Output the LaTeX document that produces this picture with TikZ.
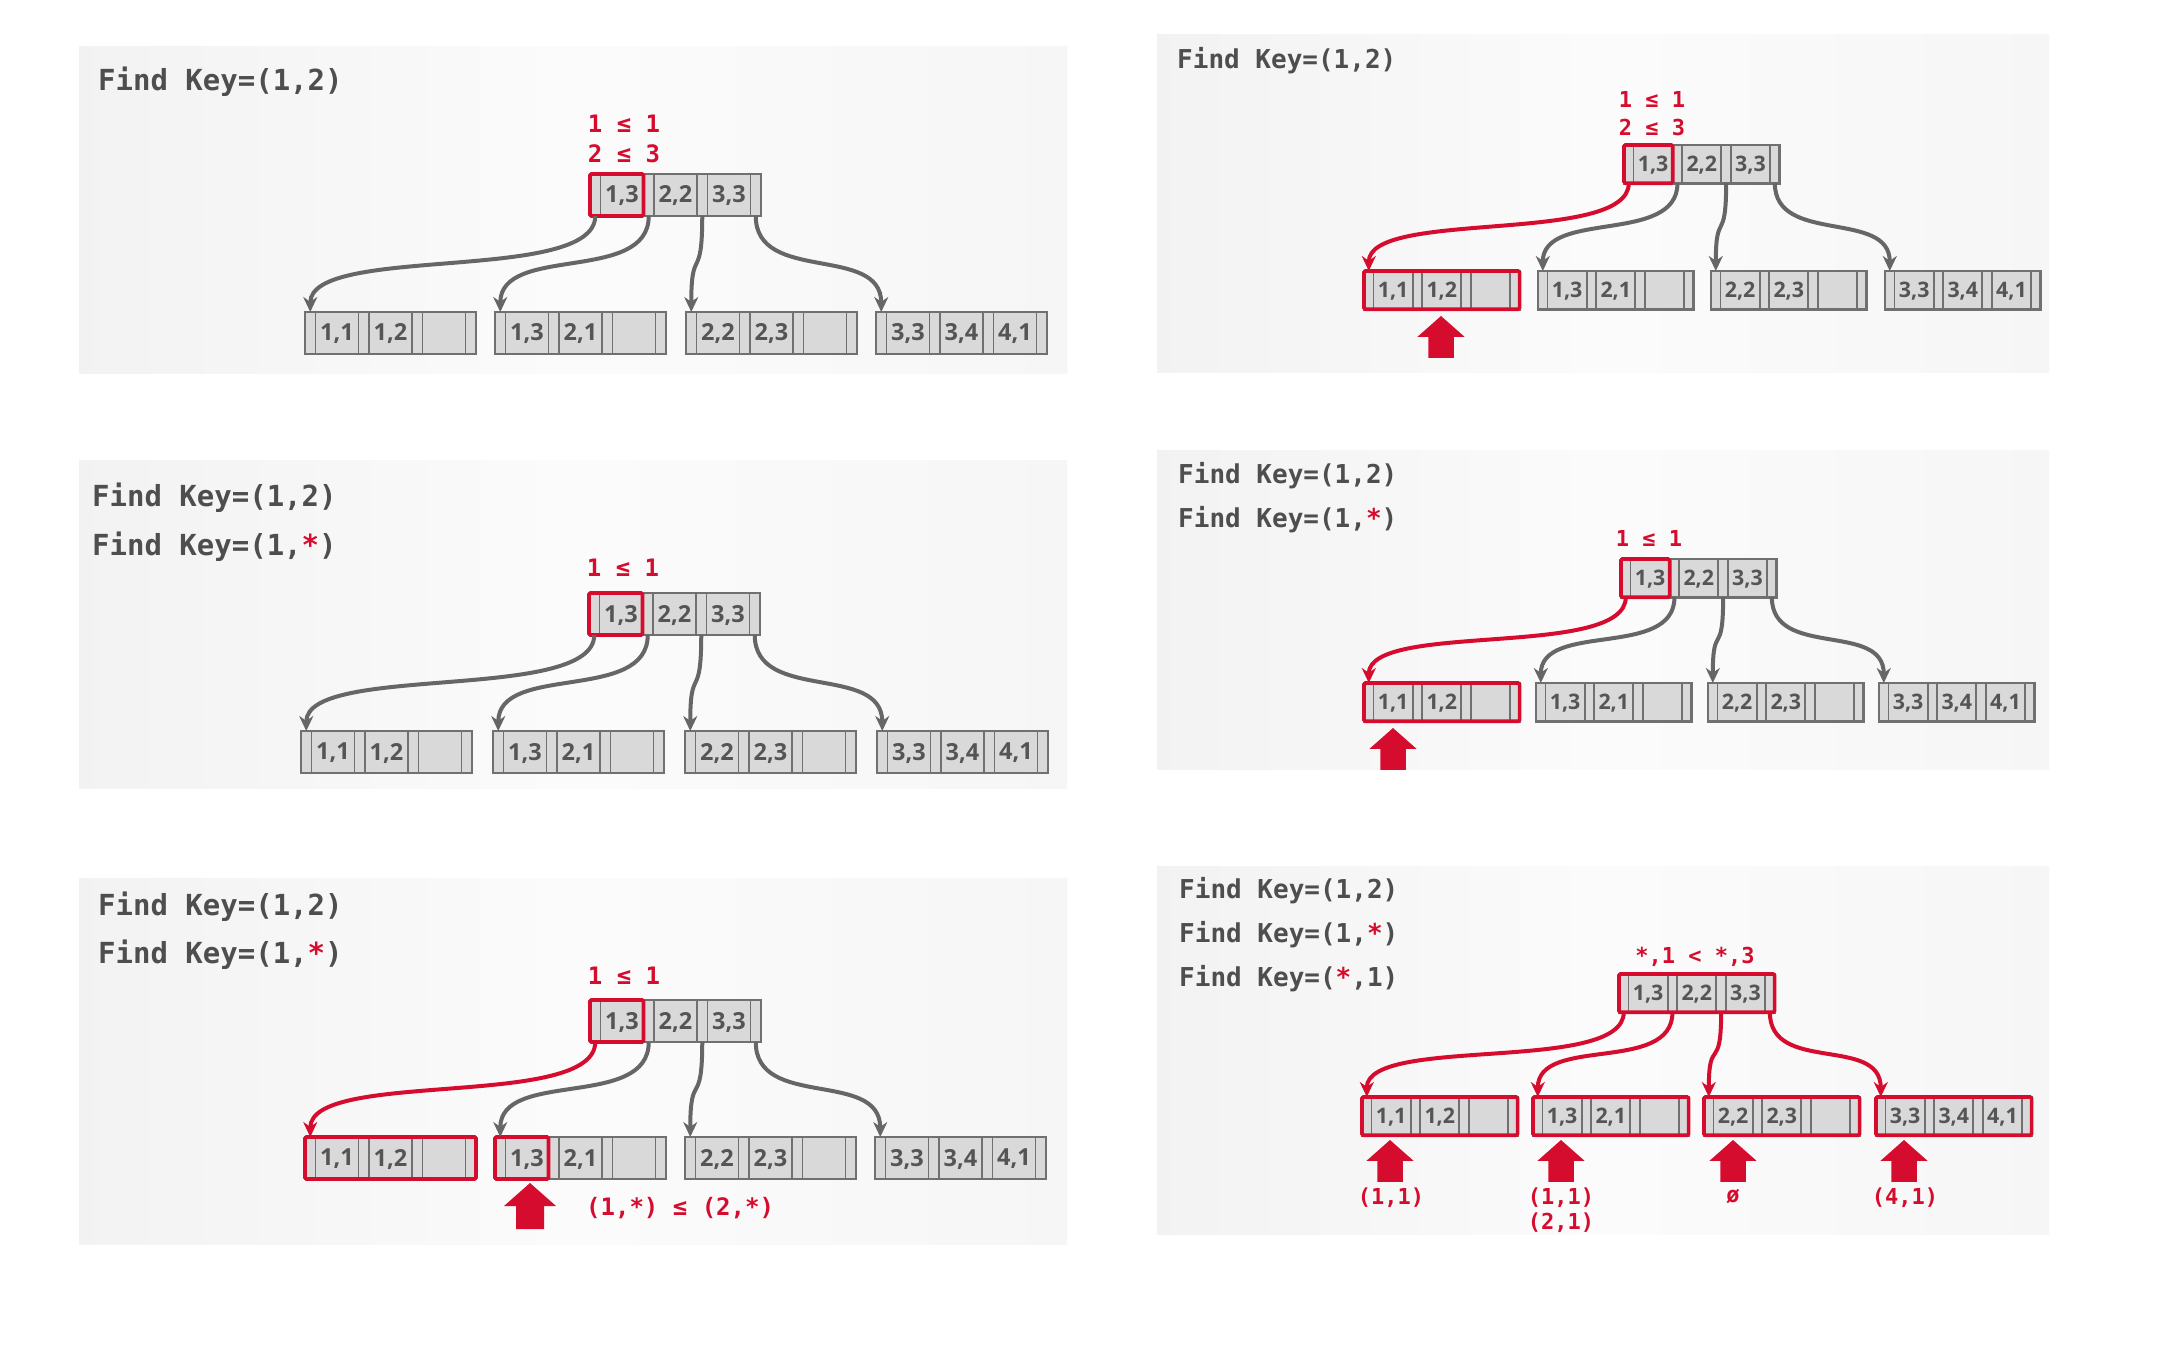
\documentclass[tikz,border=0pt]{standalone}
\usepackage{fontspec}
\setmainfont{Open Sans}
\newfontfamily\monof{DejaVu Sans Mono}
\usetikzlibrary{arrows.meta}
\definecolor{hred}{RGB}{214,12,46}
\definecolor{bgray}{RGB}{112,112,112}
\definecolor{cellfill}{RGB}{217,217,217}
\definecolor{ktext}{RGB}{85,85,85}
\definecolor{ttext}{RGB}{78,78,78}
\definecolor{agray}{RGB}{102,102,102}
\tikzset{
  btbox/.style={draw=bgray, fill=cellfill, line width=2.6pt, outer sep=0pt, inner sep=0pt},
  divline/.style={draw=bgray, line width=1.8pt},
  keytxt/.style={text=ktext, inner sep=0pt},
  hlbox/.style={draw=hred, line width=3.6pt, rounded corners=1.5pt},
  garr/.style={draw=agray, line width=4pt, -{Stealth[length=15pt,width=14pt]}},
  rarr/.style={draw=hred, line width=4pt, -{Stealth[length=15pt,width=14pt]}},
  ftitle/.style={anchor=base west, inner sep=0pt, text=ttext, font=\monof\bfseries\fontsize{#1}{#1}\selectfont},
  flabel/.style={anchor=base, inner sep=0pt, text=hred, font=\monof\bfseries\fontsize{#1}{#1}\selectfont},
  panelbg/.style={left color=gray!10, right color=gray!7, middle color=gray!3},
}
% #1 name, #2 x, #3 y (top-left), #4 scale, #5 #6 #7 keys
\newcommand\btnode[7]{%
  \pgfmathsetmacro\sa{10.5*#4}%
  \pgfmathsetmacro\sb{43*#4}%
  \pgfmathsetmacro\sh{42*#4}%
  \pgfmathsetmacro\sw{4*\sa+3*\sb}%
  \pgfmathsetmacro\fs{23.5*#4}%
  \node[btbox, minimum width=\sw pt, minimum height=\sh pt, anchor=north west] (#1) at (#2,#3) {};
  \foreach \d in {\sa, \sa+\sb, 2*\sa+\sb, 2*\sa+2*\sb, 3*\sa+2*\sb, 3*\sa+3*\sb}
    {\draw[divline] (#1.north west) ++(\d,0) -- ++(0,\sh);}
  \path (#1.west) ++({\sa+\sb/2},1) node[keytxt, font=\bfseries\fontsize{\fs}{\fs}\selectfont] (#1-k1) {#5};
  \path (#1.west) ++({2*\sa+1.5*\sb},1) node[keytxt, font=\bfseries\fontsize{\fs}{\fs}\selectfont] (#1-k2) {#6};
  \if\relax\detokenize{#7}\relax\else
  \path (#1.west) ++({3*\sa+2.5*\sb},1) node[keytxt, font=\bfseries\fontsize{\fs}{\fs}\selectfont] (#1-k3) {#7};
  \fi
  \path (#1.south west) ++({\sa/2},0) coordinate (#1-b0);
  \path (#1.south west) ++({1.5*\sa+\sb},0) coordinate (#1-b1);
  \path (#1.south west) ++({2.5*\sa+2*\sb},0) coordinate (#1-b2);
  \path (#1.south west) ++({3.5*\sa+3*\sb},0) coordinate (#1-b3);
  \path (#1.north west) ++({\sa/2},0) coordinate (#1-t);
  \path (#1.south west) ++({\sa+\sb},0) coordinate (#1-h);
}
% big red up arrow: #1 name, #2 cx, #3 ytop, #4 scale
\newcommand\uparr[4]{%
  \pgfmathsetmacro\ua{26*#4}%
  \pgfmathsetmacro\ub{23*#4}%
  \pgfmathsetmacro\uc{12*#4}%
  \pgfmathsetmacro\ud{28*#4}%
  \coordinate (#1) at (#2,#3);
  \fill[hred] (#1) -- ++(\ua,\ub) -- ++(-\uc,0) -- ++(0,\ub) -- ++(-\ud,0) -- ++(0,-\ub) -- ++(-\uc,0) -- cycle;
}
\newcommand\conn[4]{\draw[#1] (#2) .. controls +(0,#4) and +(0,-#4) .. (#3);}
\newcommand\hlkey[1]{\draw[hlbox] (#1.north west) rectangle (#1-h);}
\newcommand\hlall[1]{\draw[hlbox] (#1.north west) rectangle (#1.south east);}
\begin{document}
\begin{tikzpicture}[x=1pt,y=-1pt]
\useasboundingbox[fill=white] (0,0) rectangle (2184,1354);
% panel backgrounds
\shade[panelbg] (79,47) rectangle (1067,373);
\shade[panelbg] (1157,35) rectangle (2049,372);
\shade[panelbg] (79,460) rectangle (1067,788);
\shade[panelbg] (1157,450) rectangle (2049,769);
\shade[panelbg] (79,878) rectangle (1067,1244);
\shade[panelbg] (1157,866) rectangle (2049,1234);

% ---------- Panel 1 ----------
\node[ftitle=29] (t1) at (98,90) {Find Key=(1,2)};
\node[flabel=24] (l1a) at (624,132) {1 ≤ 1};
\node[flabel=24] (l1b) at (624,162) {2 ≤ 3};
\btnode{p1r}{590}{174}{1}{1,3}{2,2}{3,3}
\btnode{p1a}{305}{312}{1}{1,1}{1,2}{}
\btnode{p1b}{495}{312}{1}{1,3}{2,1}{}
\btnode{p1c}{686}{312}{1}{2,2}{2,3}{}
\btnode{p1d}{876}{312}{1}{3,3}{3,4}{4,1}
\hlkey{p1r}
\conn{garr}{p1r-b0}{p1a-t}{68}
\conn{garr}{p1r-b1}{p1b-t}{68}
\conn{garr}{p1r-b2}{p1c-t}{68}
\conn{garr}{p1r-b3}{p1d-t}{68}

% ---------- Panel 3 ----------
\node[ftitle=29] (t3a) at (92,506) {Find Key=(1,2)};
\node[ftitle=29] (t3b) at (92,555) {Find Key=(1,{\color{hred}*})};
\node[flabel=24] (l3) at (623,576) {1 ≤ 1};
\btnode{p3r}{589}{593}{1}{1,3}{2,2}{3,3}
\btnode{p3a}{301}{731}{1}{1,1}{1,2}{}
\btnode{p3b}{493}{731}{1}{1,3}{2,1}{}
\btnode{p3c}{685}{731}{1}{2,2}{2,3}{}
\btnode{p3d}{877}{731}{1}{3,3}{3,4}{4,1}
\hlkey{p3r}
\conn{garr}{p3r-b0}{p3a-t}{68}
\conn{garr}{p3r-b1}{p3b-t}{68}
\conn{garr}{p3r-b2}{p3c-t}{68}
\conn{garr}{p3r-b3}{p3d-t}{68}

% ---------- Panel 5 ----------
\node[ftitle=29] (t5a) at (98,915) {Find Key=(1,2)};
\node[ftitle=29] (t5b) at (98,963) {Find Key=(1,{\color{hred}*})};
\node[flabel=24] (l5) at (624,984) {1 ≤ 1};
\btnode{p5r}{590}{1000}{1}{1,3}{2,2}{3,3}
\btnode{p5a}{305}{1137}{1}{1,1}{1,2}{}
\btnode{p5b}{495}{1137}{1}{1,3}{2,1}{}
\btnode{p5c}{685}{1137}{1}{2,2}{2,3}{}
\btnode{p5d}{875}{1137}{1}{3,3}{3,4}{4,1}
\hlkey{p5r}
\hlall{p5a}
\hlkey{p5b}
\conn{rarr}{p5r-b0}{p5a-t}{68}
\conn{garr}{p5r-b1}{p5b-t}{68}
\conn{garr}{p5r-b2}{p5c-t}{68}
\conn{garr}{p5r-b3}{p5d-t}{68}
\uparr{u5}{530}{1183}{1}
\node[flabel=24, anchor=base west] (l5b) at (586,1215) {(1,*) ≤ (2,*)};

% ---------- Panel 2 ----------
\node[ftitle=26] (t2) at (1177,68) {Find Key=(1,2)};
\node[flabel=22] (l2a) at (1652,107) {1 ≤ 1};
\node[flabel=22] (l2b) at (1652,135) {2 ≤ 3};
\btnode{p2r}{1624}{145}{0.91}{1,3}{2,2}{3,3}
\btnode{p2a}{1364}{271}{0.91}{1,1}{1,2}{}
\btnode{p2b}{1538}{271}{0.91}{1,3}{2,1}{}
\btnode{p2c}{1711}{271}{0.91}{2,2}{2,3}{}
\btnode{p2d}{1885}{271}{0.91}{3,3}{3,4}{4,1}
\hlkey{p2r}
\hlall{p2a}
\conn{rarr}{p2r-b0}{p2a-t}{62}
\conn{garr}{p2r-b1}{p2b-t}{62}
\conn{garr}{p2r-b2}{p2c-t}{62}
\conn{garr}{p2r-b3}{p2d-t}{62}
\uparr{u2}{1441}{316}{0.91}

% ---------- Panel 4 ----------
\node[ftitle=26] (t4a) at (1178,483) {Find Key=(1,2)};
\node[ftitle=26] (t4b) at (1178,527) {Find Key=(1,{\color{hred}*})};
\node[flabel=22] (l4) at (1649,546) {1 ≤ 1};
\btnode{p4r}{1621}{559}{0.91}{1,3}{2,2}{3,3}
\btnode{p4a}{1364}{683}{0.91}{1,1}{1,2}{}
\btnode{p4b}{1536}{683}{0.91}{1,3}{2,1}{}
\btnode{p4c}{1708}{683}{0.91}{2,2}{2,3}{}
\btnode{p4d}{1879}{683}{0.91}{3,3}{3,4}{4,1}
\hlkey{p4r}
\hlall{p4a}
\conn{rarr}{p4r-b0}{p4a-t}{62}
\conn{garr}{p4r-b1}{p4b-t}{62}
\conn{garr}{p4r-b2}{p4c-t}{62}
\conn{garr}{p4r-b3}{p4d-t}{62}
\uparr{u4}{1393}{728}{0.91}

% ---------- Panel 6 ----------
\node[ftitle=26] (t6a) at (1179,898) {Find Key=(1,2)};
\node[ftitle=26] (t6b) at (1179,942) {Find Key=(1,{\color{hred}*})};
\node[ftitle=26] (t6c) at (1179,986) {Find Key=({\color{hred}*},1)};
\node[flabel=22] (l6) at (1695,963) {*,1 < *,3};
\btnode{p6r}{1619}{974}{0.91}{1,3}{2,2}{3,3}
\btnode{p6a}{1362}{1097}{0.91}{1,1}{1,2}{}
\btnode{p6b}{1533}{1097}{0.91}{1,3}{2,1}{}
\btnode{p6c}{1704}{1097}{0.91}{2,2}{2,3}{}
\btnode{p6d}{1876}{1097}{0.91}{3,3}{3,4}{4,1}
\hlall{p6r}
\hlall{p6a}
\hlall{p6b}
\hlall{p6c}
\hlall{p6d}
\conn{rarr}{p6r-b0}{p6a-t}{62}
\conn{rarr}{p6r-b1}{p6b-t}{62}
\conn{rarr}{p6r-b2}{p6c-t}{62}
\conn{rarr}{p6r-b3}{p6d-t}{62}
\uparr{u6a}{1390}{1140}{0.91}
\uparr{u6b}{1561}{1140}{0.91}
\uparr{u6c}{1733}{1140}{0.91}
\uparr{u6d}{1904}{1140}{0.91}
\node[flabel=22] (r6a) at (1391,1204) {(1,1)};
\node[flabel=22] (r6b) at (1561,1204) {(1,1)};
\node[flabel=22] (r6c) at (1561,1229) {(2,1)};
\node[flabel=22] (r6d) at (1733,1202) {ø};
\node[flabel=22] (r6e) at (1905,1204) {(4,1)};
\end{tikzpicture}
\end{document}
